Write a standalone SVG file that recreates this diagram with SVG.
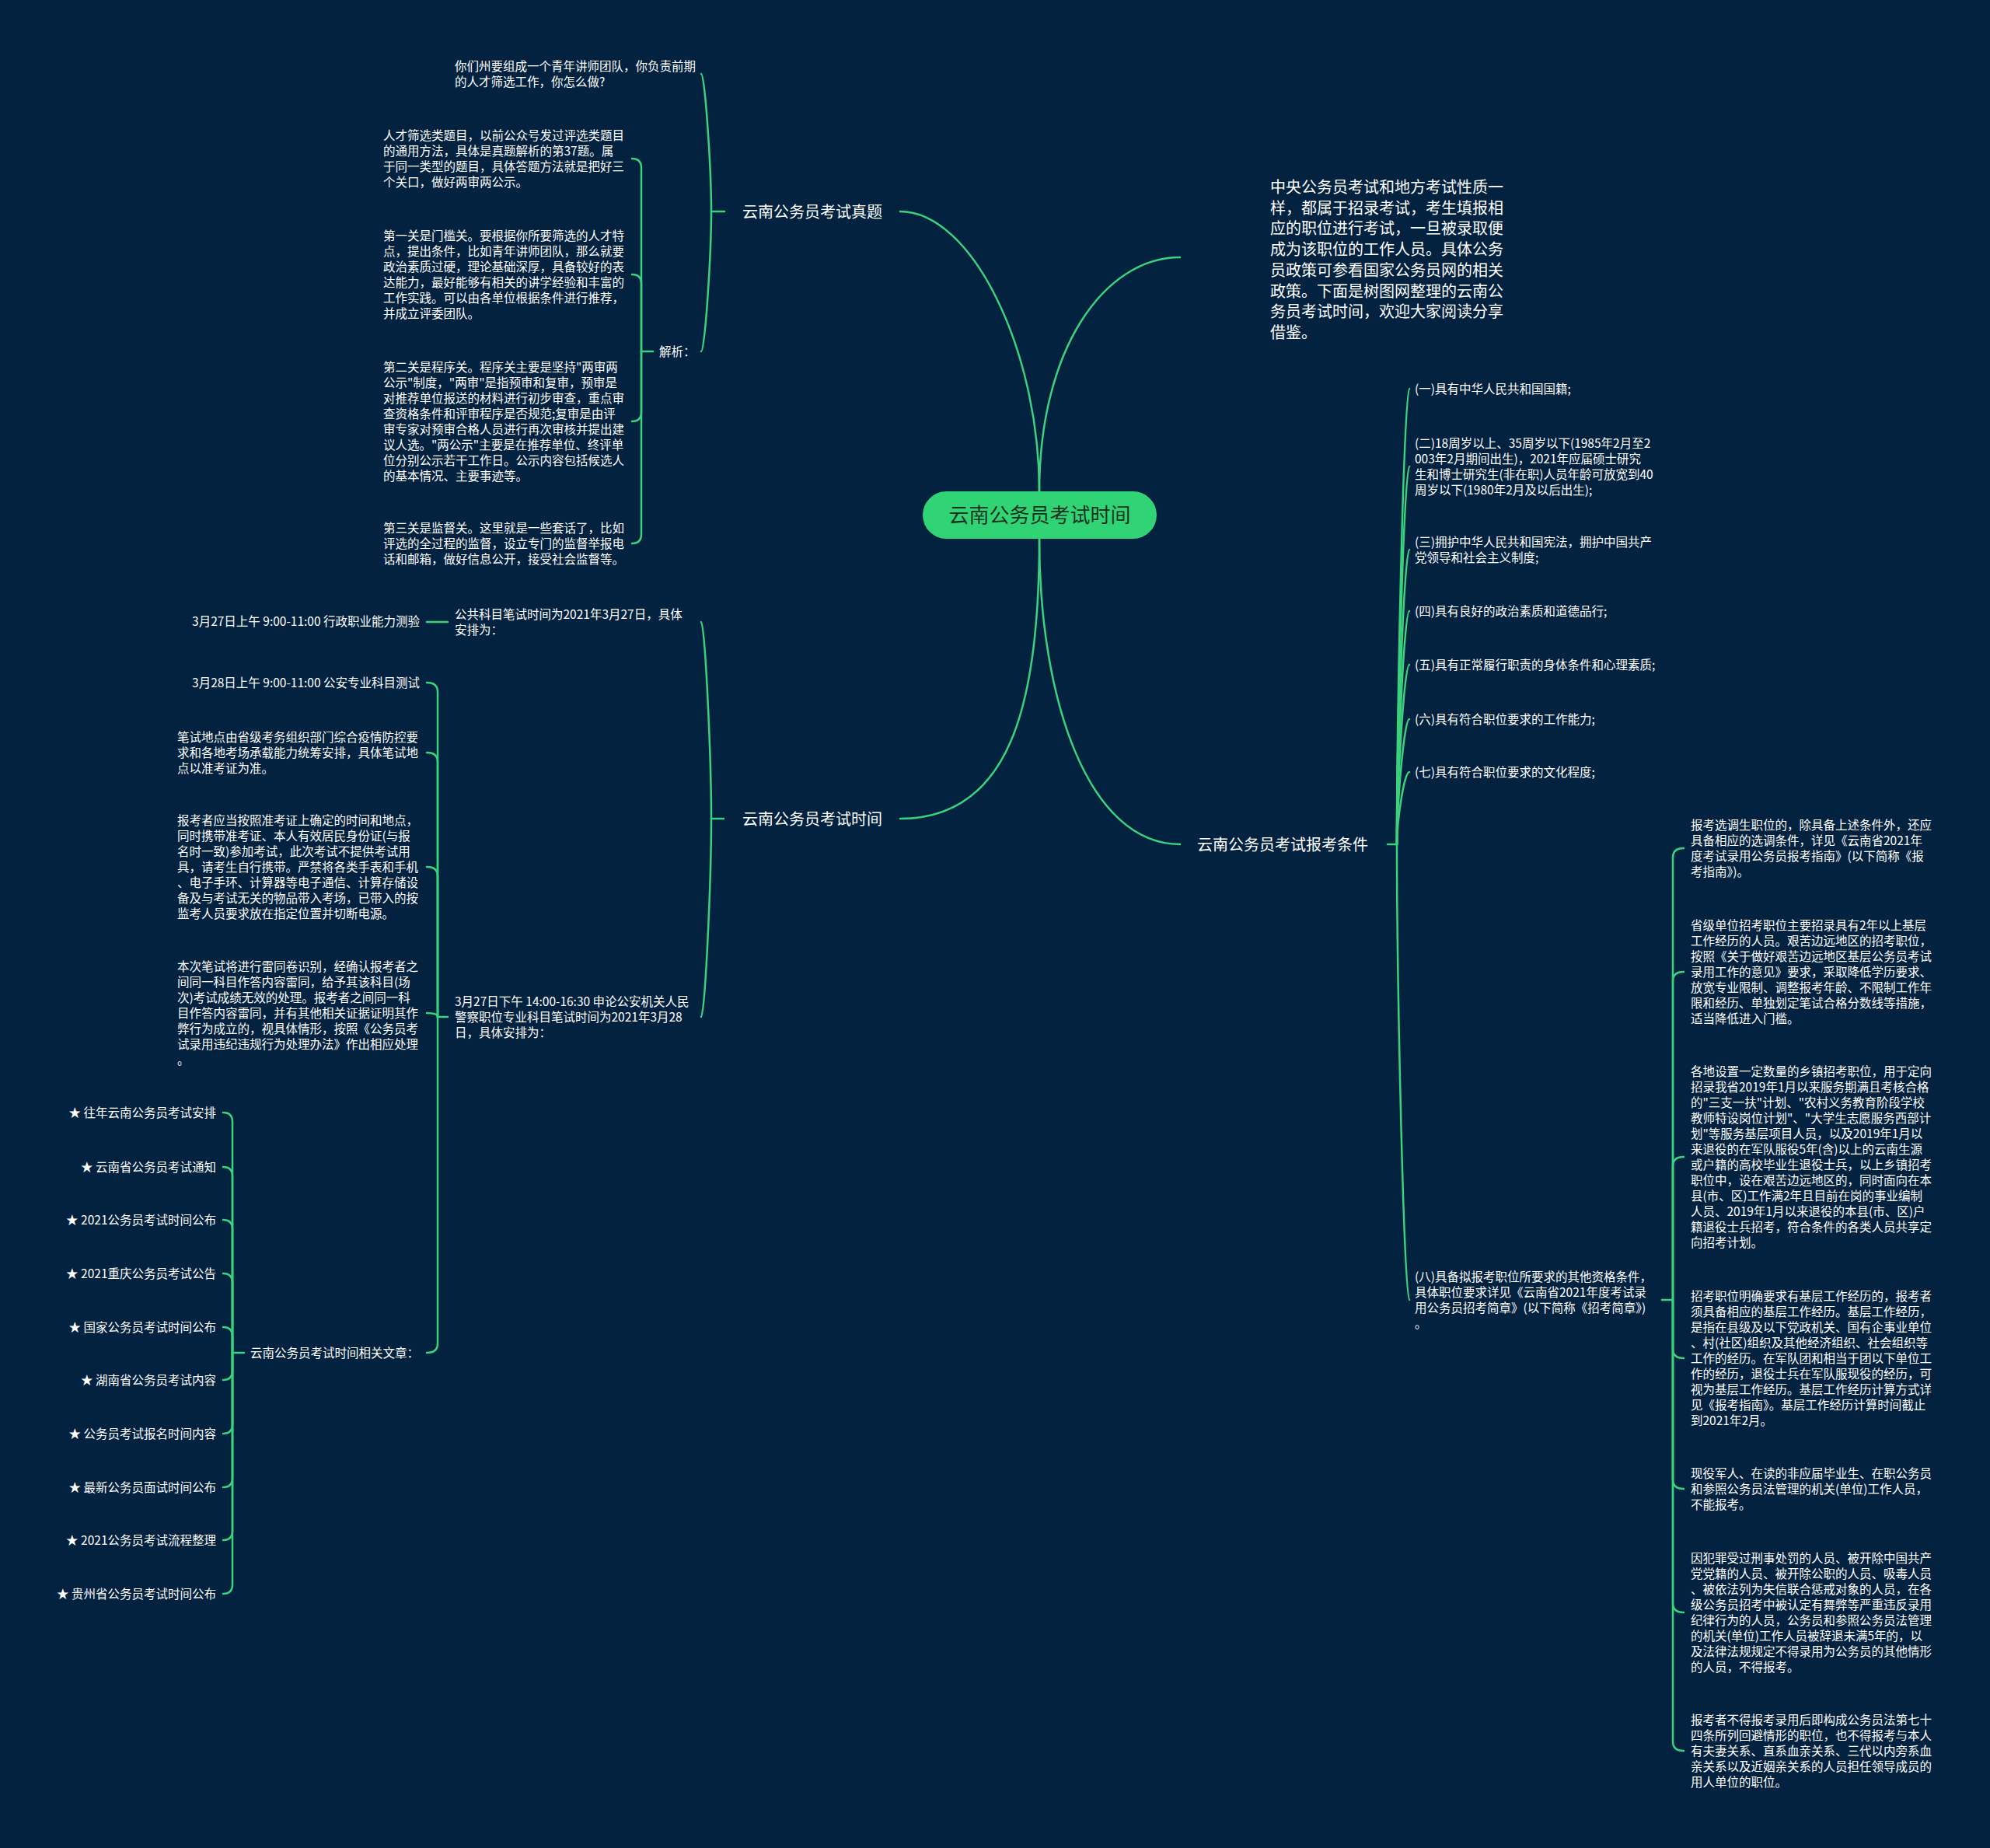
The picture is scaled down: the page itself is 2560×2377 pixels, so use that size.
<svg xmlns="http://www.w3.org/2000/svg" width="2560" height="2377" viewBox="0 0 2560 2377">
<style>
.t{font-family:"Noto Sans CJK SC","Liberation Sans",sans-serif;font-size:15.5px;fill:#ffffff}
.b{font-size:20px}
.e{text-anchor:end}
.c{font-family:"Noto Sans CJK SC","Liberation Sans",sans-serif;font-size:26px;fill:#17321f;text-anchor:middle}
.ln{fill:none;stroke:#3ad27c;stroke-width:2.5;stroke-linecap:round}
</style>
<rect x="0" y="0" width="2560" height="2377" fill="#03223f"/>
<g id="connectors">
<path class="ln" d="M1158,272 C1250,272 1337,450 1337,632"/>
<path class="ln" d="M1518,331 C1420,331 1337,450 1337,632"/>
<path class="ln" d="M1158,1053 C1300,1053 1337,905 1337,693"/>
<path class="ln" d="M1518,1086 C1400,1086 1337,900 1337,693"/>
<path class="ln" d="M932,272 H915"/>
<path class="ln" d="M915,272 C915,219 907,95 902,95"/>
<path class="ln" d="M915,272 C915,326 907,452 902,452"/>
<path class="ln" d="M840,452 H825"/>
<path class="ln" d="M825,452 V216 Q825,204 813,204"/>
<path class="ln" d="M825,452 V365 Q825,353 813,353"/>
<path class="ln" d="M825,452 V530 Q825,542 813,542"/>
<path class="ln" d="M825,452 V687 Q825,699 813,699"/>
<path class="ln" d="M931,1053 H915"/>
<path class="ln" d="M915,1053 C915,977 907,800 902,800"/>
<path class="ln" d="M915,1053 C915,1130 907,1308 902,1308"/>
<path class="ln" d="M576,800 H549"/>
<path class="ln" d="M576,1308 H563"/>
<path class="ln" d="M563,1308 V890 Q563,878 549,878"/>
<path class="ln" d="M563,1308 V980 Q563,968 549,968"/>
<path class="ln" d="M563,1308 V1127 Q563,1115 549,1115"/>
<path class="ln" d="M563,1308 Q563,1303 549,1303"/>
<path class="ln" d="M563,1308 V1728 Q563,1740 549,1740"/>
<path class="ln" d="M314,1740 H299"/>
<path class="ln" d="M299,1740 V1443 Q299,1431 287,1431"/>
<path class="ln" d="M299,1740 V1513 Q299,1501 287,1501"/>
<path class="ln" d="M299,1740 V1581 Q299,1569 287,1569"/>
<path class="ln" d="M299,1740 V1650 Q299,1638 287,1638"/>
<path class="ln" d="M299,1740 V1719 Q299,1707 287,1707"/>
<path class="ln" d="M299,1740 V1763 Q299,1775 287,1775"/>
<path class="ln" d="M299,1740 V1832 Q299,1844 287,1844"/>
<path class="ln" d="M299,1740 V1901 Q299,1913 287,1913"/>
<path class="ln" d="M299,1740 V1969 Q299,1981 287,1981"/>
<path class="ln" d="M299,1740 V2038 Q299,2050 287,2050"/>
<path class="ln" d="M1785,1086 H1797"/>
<path class="ln" d="M1797,1086 C1797,910 1806,500 1813,500"/>
<path class="ln" d="M1797,1086 C1797,940 1806,600 1813,600"/>
<path class="ln" d="M1797,1086 C1797,972 1806,707 1813,707"/>
<path class="ln" d="M1797,1086 C1797,996 1806,786 1813,786"/>
<path class="ln" d="M1797,1086 C1797,1017 1806,855 1813,855"/>
<path class="ln" d="M1797,1086 C1797,1038 1806,925 1813,925"/>
<path class="ln" d="M1797,1086 C1797,1058 1806,993 1813,993"/>
<path class="ln" d="M1797,1086 C1797,1262 1806,1672 1813,1672"/>
<path class="ln" d="M2138,1672 H2152"/>
<path class="ln" d="M2152,1672 V1103 Q2152,1091 2166,1091"/>
<path class="ln" d="M2152,1672 V1262 Q2152,1250 2166,1250"/>
<path class="ln" d="M2152,1672 V1500 Q2152,1488 2166,1488"/>
<path class="ln" d="M2152,1672 V1735 Q2152,1747 2166,1747"/>
<path class="ln" d="M2152,1672 V1903 Q2152,1915 2166,1915"/>
<path class="ln" d="M2152,1672 V2062 Q2152,2074 2166,2074"/>
<path class="ln" d="M2152,1672 V2240 Q2152,2252 2166,2252"/>
</g>
<g id="root">
<rect x="1187" y="632" width="301" height="61" rx="30.5" fill="#31d475"/>
<text class="c" x="1337.5" y="672">云南公务员考试时间</text>
</g>
<g id="n-zhenti"><text class="t b" x="955" y="280">云南公务员考试真题</text></g>
<g id="n-question"><text class="t"><tspan x="585" y="91">你们州要组成一个青年讲师团队，你负责前期</tspan><tspan x="585" y="111">的人才筛选工作，你怎么做?</tspan></text></g>
<g id="n-jiexi"><text class="t" x="848" y="458">解析：</text></g>
<g id="n-jx1"><text class="t"><tspan x="493" y="180">人才筛选类题目，以前公众号发过评选类题目</tspan><tspan x="493" y="200">的通用方法，具体是真题解析的第37题。属</tspan><tspan x="493" y="220">于同一类型的题目，具体答题方法就是把好三</tspan><tspan x="493" y="240">个关口，做好两审两公示。</tspan></text></g>
<g id="n-jx2"><text class="t"><tspan x="493" y="309">第一关是门槛关。要根据你所要筛选的人才特</tspan><tspan x="493" y="329">点，提出条件，比如青年讲师团队，那么就要</tspan><tspan x="493" y="349">政治素质过硬，理论基础深厚，具备较好的表</tspan><tspan x="493" y="369">达能力，最好能够有相关的讲学经验和丰富的</tspan><tspan x="493" y="389">工作实践。可以由各单位根据条件进行推荐，</tspan><tspan x="493" y="409">并成立评委团队。</tspan></text></g>
<g id="n-jx3"><text class="t"><tspan x="493" y="478">第二关是程序关。程序关主要是坚持"两审两</tspan><tspan x="493" y="498">公示"制度，"两审"是指预审和复审，预审是</tspan><tspan x="493" y="518">对推荐单位报送的材料进行初步审查，重点审</tspan><tspan x="493" y="538">查资格条件和评审程序是否规范;复审是由评</tspan><tspan x="493" y="558">审专家对预审合格人员进行再次审核并提出建</tspan><tspan x="493" y="578">议人选。"两公示"主要是在推荐单位、终评单</tspan><tspan x="493" y="598">位分别公示若干工作日。公示内容包括候选人</tspan><tspan x="493" y="618">的基本情况、主要事迹等。</tspan></text></g>
<g id="n-jx4"><text class="t"><tspan x="493" y="685">第三关是监督关。这里就是一些套话了，比如</tspan><tspan x="493" y="705">评选的全过程的监督，设立专门的监督举报电</tspan><tspan x="493" y="725">话和邮箱，做好信息公开，接受社会监督等。</tspan></text></g>
<g id="n-shijian"><text class="t b" x="955" y="1061">云南公务员考试时间</text></g>
<g id="n-gonggong"><text class="t"><tspan x="585" y="796">公共科目笔试时间为2021年3月27日，具体</tspan><tspan x="585" y="816">安排为：</tspan></text></g>
<g id="n-am27"><text class="t e" x="540" y="805">3月27日上午 9:00-11:00 行政职业能力测验</text></g>
<g id="n-pm27"><text class="t"><tspan x="585" y="1294">3月27日下午 14:00-16:30 申论公安机关人民</tspan><tspan x="585" y="1314">警察职位专业科目笔试时间为2021年3月28</tspan><tspan x="585" y="1334">日，具体安排为：</tspan></text></g>
<g id="n-am28"><text class="t e" x="540" y="884">3月28日上午 9:00-11:00 公安专业科目测试</text></g>
<g id="n-didian"><text class="t"><tspan x="228" y="954">笔试地点由省级考务组织部门综合疫情防控要</tspan><tspan x="228" y="974">求和各地考场承载能力统筹安排，具体笔试地</tspan><tspan x="228" y="994">点以准考证为准。</tspan></text></g>
<g id="n-baokaozhe"><text class="t"><tspan x="228" y="1061">报考者应当按照准考证上确定的时间和地点，</tspan><tspan x="228" y="1081">同时携带准考证、本人有效居民身份证(与报</tspan><tspan x="228" y="1101">名时一致)参加考试，此次考试不提供考试用</tspan><tspan x="228" y="1121">具，请考生自行携带。严禁将各类手表和手机</tspan><tspan x="228" y="1141">、电子手环、计算器等电子通信、计算存储设</tspan><tspan x="228" y="1161">备及与考试无关的物品带入考场，已带入的按</tspan><tspan x="228" y="1181">监考人员要求放在指定位置并切断电源。</tspan></text></g>
<g id="n-leitong"><text class="t"><tspan x="228" y="1249">本次笔试将进行雷同卷识别，经确认报考者之</tspan><tspan x="228" y="1269">间同一科目作答内容雷同，给予其该科目(场</tspan><tspan x="228" y="1289">次)考试成绩无效的处理。报考者之间同一科</tspan><tspan x="228" y="1309">目作答内容雷同，并有其他相关证据证明其作</tspan><tspan x="228" y="1329">弊行为成立的，视具体情形，按照《公务员考</tspan><tspan x="228" y="1349">试录用违纪违规行为处理办法》作出相应处理</tspan><tspan x="228" y="1369">。</tspan></text></g>
<g id="n-xiangguan"><text class="t" x="322" y="1746">云南公务员考试时间相关文章：</text></g>
<g id="n-links">
<text class="t e" x="278" y="1437">★ 往年云南公务员考试安排</text>
<text class="t e" x="278" y="1507">★ 云南省公务员考试通知</text>
<text class="t e" x="278" y="1575">★ 2021公务员考试时间公布</text>
<text class="t e" x="278" y="1644">★ 2021重庆公务员考试公告</text>
<text class="t e" x="278" y="1713">★ 国家公务员考试时间公布</text>
<text class="t e" x="278" y="1781">★ 湖南省公务员考试内容</text>
<text class="t e" x="278" y="1850">★ 公务员考试报名时间内容</text>
<text class="t e" x="278" y="1919">★ 最新公务员面试时间公布</text>
<text class="t e" x="278" y="1987">★ 2021公务员考试流程整理</text>
<text class="t e" x="278" y="2056">★ 贵州省公务员考试时间公布</text>
</g>
<g id="n-intro"><text class="t b"><tspan x="1634" y="248">中央公务员考试和地方考试性质一</tspan><tspan x="1634" y="274.7">样，都属于招录考试，考生填报相</tspan><tspan x="1634" y="301.4">应的职位进行考试，一旦被录取便</tspan><tspan x="1634" y="328.1">成为该职位的工作人员。具体公务</tspan><tspan x="1634" y="354.8">员政策可参看国家公务员网的相关</tspan><tspan x="1634" y="381.5">政策。下面是树图网整理的云南公</tspan><tspan x="1634" y="408.2">务员考试时间，欢迎大家阅读分享</tspan><tspan x="1634" y="434.9">借鉴。</tspan></text></g>
<g id="n-tiaojian"><text class="t b" x="1540" y="1094">云南公务员考试报考条件</text></g>
<g id="n-c1"><text class="t" x="1820" y="506">(一)具有中华人民共和国国籍;</text></g>
<g id="n-c2"><text class="t"><tspan x="1820" y="576">(二)18周岁以上、35周岁以下(1985年2月至2</tspan><tspan x="1820" y="596">003年2月期间出生)，2021年应届硕士研究</tspan><tspan x="1820" y="616">生和博士研究生(非在职)人员年龄可放宽到40</tspan><tspan x="1820" y="636">周岁以下(1980年2月及以后出生);</tspan></text></g>
<g id="n-c3"><text class="t"><tspan x="1820" y="703">(三)拥护中华人民共和国宪法，拥护中国共产</tspan><tspan x="1820" y="723">党领导和社会主义制度;</tspan></text></g>
<g id="n-c4"><text class="t" x="1820" y="792">(四)具有良好的政治素质和道德品行;</text></g>
<g id="n-c5"><text class="t" x="1820" y="861">(五)具有正常履行职责的身体条件和心理素质;</text></g>
<g id="n-c6"><text class="t" x="1820" y="931">(六)具有符合职位要求的工作能力;</text></g>
<g id="n-c7"><text class="t" x="1820" y="999">(七)具有符合职位要求的文化程度;</text></g>
<g id="n-c8"><text class="t"><tspan x="1820" y="1648">(八)具备拟报考职位所要求的其他资格条件，</tspan><tspan x="1820" y="1668">具体职位要求详见《云南省2021年度考试录</tspan><tspan x="1820" y="1688">用公务员招考简章》(以下简称《招考简章》)</tspan><tspan x="1820" y="1708">。</tspan></text></g>
<g id="n-d1"><text class="t"><tspan x="2175" y="1067">报考选调生职位的，除具备上述条件外，还应</tspan><tspan x="2175" y="1087">具备相应的选调条件，详见《云南省2021年</tspan><tspan x="2175" y="1107">度考试录用公务员报考指南》(以下简称《报</tspan><tspan x="2175" y="1127">考指南》)。</tspan></text></g>
<g id="n-d2"><text class="t"><tspan x="2175" y="1196">省级单位招考职位主要招录具有2年以上基层</tspan><tspan x="2175" y="1216">工作经历的人员。艰苦边远地区的招考职位，</tspan><tspan x="2175" y="1236">按照《关于做好艰苦边远地区基层公务员考试</tspan><tspan x="2175" y="1256">录用工作的意见》要求，采取降低学历要求、</tspan><tspan x="2175" y="1276">放宽专业限制、调整报考年龄、不限制工作年</tspan><tspan x="2175" y="1296">限和经历、单独划定笔试合格分数线等措施，</tspan><tspan x="2175" y="1316">适当降低进入门槛。</tspan></text></g>
<g id="n-d3"><text class="t"><tspan x="2175" y="1384">各地设置一定数量的乡镇招考职位，用于定向</tspan><tspan x="2175" y="1404">招录我省2019年1月以来服务期满且考核合格</tspan><tspan x="2175" y="1424">的"三支一扶"计划、"农村义务教育阶段学校</tspan><tspan x="2175" y="1444">教师特设岗位计划"、"大学生志愿服务西部计</tspan><tspan x="2175" y="1464">划"等服务基层项目人员，以及2019年1月以</tspan><tspan x="2175" y="1484">来退役的在军队服役5年(含)以上的云南生源</tspan><tspan x="2175" y="1504">或户籍的高校毕业生退役士兵，以上乡镇招考</tspan><tspan x="2175" y="1524">职位中，设在艰苦边远地区的，同时面向在本</tspan><tspan x="2175" y="1544">县(市、区)工作满2年且目前在岗的事业编制</tspan><tspan x="2175" y="1564">人员、2019年1月以来退役的本县(市、区)户</tspan><tspan x="2175" y="1584">籍退役士兵招考，符合条件的各类人员共享定</tspan><tspan x="2175" y="1604">向招考计划。</tspan></text></g>
<g id="n-d4"><text class="t"><tspan x="2175" y="1673">招考职位明确要求有基层工作经历的，报考者</tspan><tspan x="2175" y="1693">须具备相应的基层工作经历。基层工作经历，</tspan><tspan x="2175" y="1713">是指在县级及以下党政机关、国有企事业单位</tspan><tspan x="2175" y="1733">、村(社区)组织及其他经济组织、社会组织等</tspan><tspan x="2175" y="1753">工作的经历。在军队团和相当于团以下单位工</tspan><tspan x="2175" y="1773">作的经历，退役士兵在军队服现役的经历，可</tspan><tspan x="2175" y="1793">视为基层工作经历。基层工作经历计算方式详</tspan><tspan x="2175" y="1813">见《报考指南》。基层工作经历计算时间截止</tspan><tspan x="2175" y="1833">到2021年2月。</tspan></text></g>
<g id="n-d5"><text class="t"><tspan x="2175" y="1901">现役军人、在读的非应届毕业生、在职公务员</tspan><tspan x="2175" y="1921">和参照公务员法管理的机关(单位)工作人员，</tspan><tspan x="2175" y="1941">不能报考。</tspan></text></g>
<g id="n-d6"><text class="t"><tspan x="2175" y="2010">因犯罪受过刑事处罚的人员、被开除中国共产</tspan><tspan x="2175" y="2030">党党籍的人员、被开除公职的人员、吸毒人员</tspan><tspan x="2175" y="2050">、被依法列为失信联合惩戒对象的人员，在各</tspan><tspan x="2175" y="2070">级公务员招考中被认定有舞弊等严重违反录用</tspan><tspan x="2175" y="2090">纪律行为的人员，公务员和参照公务员法管理</tspan><tspan x="2175" y="2110">的机关(单位)工作人员被辞退未满5年的，以</tspan><tspan x="2175" y="2130">及法律法规规定不得录用为公务员的其他情形</tspan><tspan x="2175" y="2150">的人员，不得报考。</tspan></text></g>
<g id="n-d7"><text class="t"><tspan x="2175" y="2218">报考者不得报考录用后即构成公务员法第七十</tspan><tspan x="2175" y="2238">四条所列回避情形的职位，也不得报考与本人</tspan><tspan x="2175" y="2258">有夫妻关系、直系血亲关系、三代以内旁系血</tspan><tspan x="2175" y="2278">亲关系以及近姻亲关系的人员担任领导成员的</tspan><tspan x="2175" y="2298">用人单位的职位。</tspan></text></g>
</svg>
